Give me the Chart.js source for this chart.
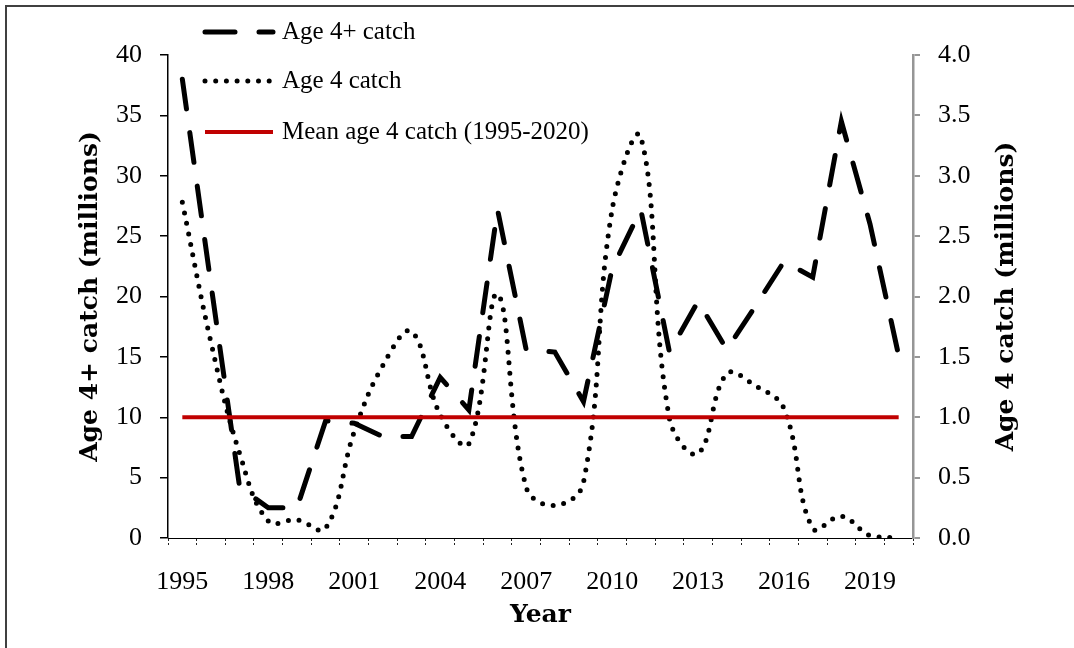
<!DOCTYPE html>
<html>
<head>
<meta charset="utf-8">
<script src="https://cdn.jsdelivr.net/npm/chart.js@4.4.1/dist/chart.umd.min.js"></script>
<style>
  body { margin: 0; background: #fff; }
  #wrap { width: 1074px; height: 648px; }
</style>
</head>
<body>
<div id="wrap"><canvas id="catchChart" width="1074" height="648"></canvas></div>
<script>
// data
const years = ['1995','1996','1997','1998','1999','2000','2001','2002','2003','2004','2005','2006','2007',
  '2008','2009','2010','2011','2012','2013','2014','2015','2016','2017','2018','2019','2020'];
const age4PlusCatch = [38, 21, 4.2, 2.5, 2.5, 9.7, 9.5, 8.4, 8.4, 13.3, 10.6, 27.2, 15.6,
  15.4, 11.3, 22.3, 27.2, 15.4, 19.6, 15.6, 19.2, 22.9, 21.6, 34.5, 26, 15.1];
const age4Catch = [2.78, 1.62, 0.70, 0.14, 0.15, 0.08, 0.88, 1.43, 1.71, 1.02, 0.78, 2.02, 0.42,
  0.27, 0.46, 2.72, 3.32, 0.99, 0.70, 1.36, 1.26, 1.07, 0.08, 0.18, 0.02, 0.0];
const meanAge4 = [1.0, 1.0, 1.0, 1.0, 1.0, 1.0, 1.0, 1.0, 1.0, 1.0, 1.0, 1.0, 1.0,
  1.0, 1.0, 1.0, 1.0, 1.0, 1.0, 1.0, 1.0, 1.0, 1.0, 1.0, 1.0, 1.0];
const leftTicks = [0, 5, 10, 15, 20, 25, 30, 35, 40];
const rightTicks = [0, 0.5, 1, 1.5, 2, 2.5, 3, 3.5, 4];

const tickFont = { family: '"Liberation Serif", serif', size: 26 };
const titleFont = 'bold 25px "DejaVu Serif", serif';
const legendFont = '25px "Liberation Serif", serif';

const DASH_LONG = [30, 24];
const DOTS = [0, 10.7];
const RED = '#c00000';

// frame, axis titles and legend drawn on top
const decorations = {
  id: 'decorations',
  beforeDraw(chart) {
    const ctx = chart.ctx;
    ctx.save();
    ctx.fillStyle = '#fff';
    ctx.fillRect(0, 0, chart.width, chart.height);
    ctx.restore();
  },
  afterDraw(chart) {
    const ctx = chart.ctx;
    const area = chart.chartArea;
    ctx.save();

    // outer frame (top and left only)
    ctx.strokeStyle = '#404040';
    ctx.lineWidth = 2;
    ctx.beginPath();
    ctx.moveTo(6, 648);
    ctx.lineTo(6, 6);
    ctx.lineTo(1074, 6);
    ctx.stroke();

    // axis titles
    ctx.fillStyle = '#000';
    ctx.font = titleFont;
    ctx.textAlign = 'center';
    ctx.textBaseline = 'middle';
    const midY = (area.top + area.bottom) / 2;
    [[90, 'Age 4+ catch (millions)'], [1006, 'Age 4 catch (millions)']].forEach(([x, txt]) => {
      ctx.save();
      ctx.translate(x, midY);
      ctx.rotate(-Math.PI / 2);
      ctx.fillText(txt, 0, 0);
      ctx.restore();
    });
    ctx.fillText('Year', (area.left + area.right) / 2, 615);

    // legend
    const items = [
      { y: 32, text: 'Age 4+ catch', color: '#000', width: 5, dash: DASH_LONG },
      { y: 81, text: 'Age 4 catch', color: '#000', width: 5, dash: DOTS },
      { y: 132, text: 'Mean age 4 catch (1995-2020)', color: RED, width: 4, dash: [] }
    ];
    items.forEach(it => {
      ctx.save();
      ctx.strokeStyle = it.color;
      ctx.lineWidth = it.width;
      ctx.lineCap = it.dash.length ? 'round' : 'butt';
      ctx.setLineDash(it.dash);
      ctx.beginPath();
      ctx.moveTo(205, it.y);
      ctx.lineTo(273, it.y);
      ctx.stroke();
      ctx.restore();
      ctx.font = legendFont;
      ctx.textAlign = 'left';
      ctx.fillStyle = '#000';
      ctx.fillText(it.text, 282, it.y);
    });

    ctx.restore();
  }
};

const ctx = document.getElementById('catchChart').getContext('2d');
const chart = new Chart(ctx, {
  type: 'line',
  data: {
    labels: years,
    datasets: [
      {
        label: 'Mean age 4 catch (1995-2020)',
        data: meanAge4,
        yAxisID: 'yRight',
        borderColor: RED,
        borderWidth: 4,
        pointRadius: 0,
        tension: 0,
        order: 0
      },
      {
        label: 'Age 4 catch',
        data: age4Catch,
        yAxisID: 'yRight',
        borderColor: '#000',
        borderWidth: 5,
        borderDash: DOTS,
        borderCapStyle: 'round',
        pointRadius: 0,
        tension: 0.4,
        order: 1
      },
      {
        label: 'Age 4+ catch',
        data: age4PlusCatch,
        yAxisID: 'yLeft',
        borderColor: '#000',
        borderWidth: 5,
        borderDash: DASH_LONG,
        borderCapStyle: 'round',
        pointRadius: 0,
        tension: 0,
        order: 2
      }
    ]
  },
  options: {
    responsive: false,
    animation: false,
    devicePixelRatio: 1,
    layout: { padding: { top: 55, left: 0, right: 0, bottom: 0 } },
    plugins: { legend: { display: false }, tooltip: { enabled: false } },
    scales: {
      x: {
        offset: true,
        afterFit: s => { s.height = 110; },
        border: { display: true, color: '#000', width: 1, dash: [3, 2] },
        grid: {
          offset: true, drawOnChartArea: false, drawTicks: true, tickLength: 8,
          color: '#222', tickBorderDash: [2, 2], tickWidth: 1
        },
        ticks: {
          autoSkip: false, maxRotation: 0, padding: 21, color: '#000', font: tickFont,
          callback: (v, i) => (i % 3 === 0 ? years[i] : '')
        }
      },
      yLeft: {
        position: 'left',
        min: 0, max: 40,
        afterFit: s => { s.width = 168; },
        afterBuildTicks: s => { s.ticks = leftTicks.map(v => ({ value: v })); },
        border: { display: true, color: '#000', width: 1.5 },
        grid: { drawOnChartArea: false, drawTicks: true, tickLength: 8, color: '#000', lineWidth: 1.5 },
        ticks: { padding: 18, color: '#000', font: tickFont, callback: v => String(v) }
      },
      yRight: {
        position: 'right',
        min: 0, max: 4,
        afterFit: s => { s.width = 161; },
        afterBuildTicks: s => { s.ticks = rightTicks.map(v => ({ value: v })); },
        border: { display: true, color: '#969696', width: 2.5 },
        grid: { drawOnChartArea: false, drawTicks: true, tickLength: 7, color: '#969696', lineWidth: 2 },
        ticks: { padding: 18, color: '#000', font: tickFont, callback: v => Number(v).toFixed(1) }
      }
    }
  },
  plugins: [decorations]
});
</script>
</body>
</html>
